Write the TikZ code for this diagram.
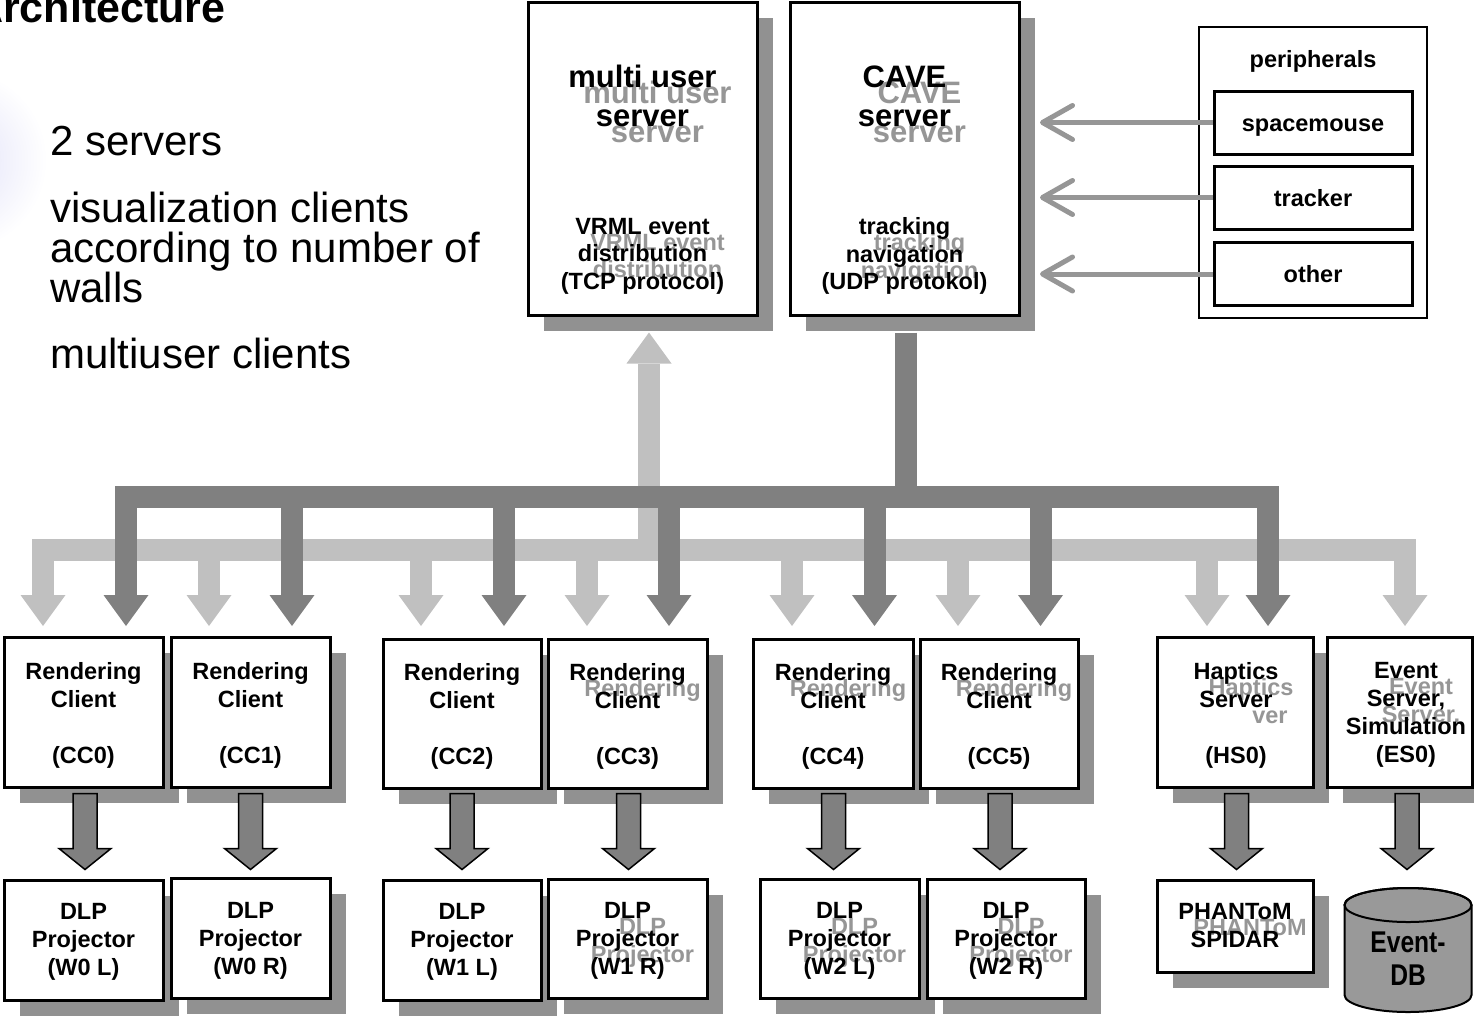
\documentclass[tikz,border=0pt]{standalone}
\usepackage{fontspec}
\setmainfont{Liberation Sans}
\newfontfamily\narrowfont[FakeStretch=0.82]{Liberation Sans}
\usetikzlibrary{shapes.geometric,shadows,fit,calc,arrows.meta}
\definecolor{shadowgray}{RGB}{145,145,145}
\definecolor{busdark}{RGB}{128,128,128}
\definecolor{buslight}{RGB}{192,192,192}
\definecolor{ghostgray}{RGB}{150,150,150}
\definecolor{periarrowcol}{RGB}{150,150,150}
\definecolor{dbgray}{RGB}{153,153,153}
\definecolor{blobcol}{RGB}{224,224,248}
\tikzset{
  blackbox/.style={draw=black,line width=3pt,fill=white,inner sep=0pt,
    drop shadow={shadow xshift=16pt,shadow yshift=-16pt,opacity=1,fill=shadowgray}},
  lbltext/.style={inner sep=0pt,align=center,font=\fontsize{23.5}{28}\selectfont\bfseries},
  desctext/.style={lbltext,font=\fontsize{23.5}{27.5}\selectfont\bfseries},
  titletext/.style={inner sep=0pt,align=center,font=\fontsize{31}{39}\selectfont\bfseries},
  ghosttext/.style={text=ghostgray},
  bullettext/.style={inner sep=0pt,align=left,font=\fontsize{42}{40}\selectfont},
  periphbox/.style={draw=black,line width=3pt,fill=white,inner sep=0pt,
    minimum width=198pt,minimum height=63pt,text height=20pt,text depth=3pt,
    font=\fontsize{23.5}{28}\selectfont\bfseries},
  periarrow/.style={draw=periarrowcol,line width=5pt,
    -{Straight Barb[length=30pt,width=34pt,round]}},
  darkbus/.style={draw=busdark,line width=22pt},
  lightbus/.style={draw=buslight,line width=22pt},
  bustip/.style={-{Triangle[width=45pt,length=31pt,line width=0pt]}},
  bustwo/.style={{Triangle[width=45pt,length=31pt,line width=0pt]}-{Triangle[width=45pt,length=31pt,line width=0pt]}},
  barrow/.pic={\draw[fill=busdark,line width=1.5pt,line join=miter]
    (-12,0)--(12,0)--(12,55)--(26,55)--(0,76)--(-26,55)--(-12,55)--cycle;},
  dbline/.style={draw=black,line width=2pt}
}
\begin{document}
\begin{tikzpicture}[x=1pt,y=-1pt]
\useasboundingbox (0,0) rectangle (1474,1018);
\clip (0,0) rectangle (1474,1018);

% faint background blob
\shade[inner color=blobcol,outer color=white] (-45,160) circle (92);

% title and bullet text
\node[anchor=base west,inner sep=0pt,font=\fontsize{43}{50}\selectfont\bfseries] (title) at (-28,22) {Architecture};
\node[bullettext,anchor=base west] (b1) at (50,155) {2 servers};
\node[bullettext,anchor=north west] (b2) at (50,192) {visualization clients\\according to number of\\walls};
\node[bullettext,anchor=base west] (b3) at (50,368) {multiuser clients};

% server boxes
\node[blackbox,fit={(528,2)(757,315)}] (mu) {};
\node[blackbox,fit={(790,2)(1019,315)}] (cave) {};

% peripherals
\node[draw=black,line width=1.5pt,fill=white,inner sep=0pt,fit={(1199,27)(1427,318)}] (peri) {};
\node[anchor=base,inner sep=0pt,font=\fontsize{23.5}{28}\selectfont\bfseries] (perit) at (1313,67) {peripherals};
\node[periphbox] (sm) at (1313,122.5) {spacemouse};
\node[periphbox] (tr) at (1313,197.5) {tracker};
\node[periphbox] (ot) at (1313,274) {other};

% client boxes
\node[blackbox,fit={(4,637)(163,787)}] (cc0) {};
\node[blackbox,fit={(171,637)(330,787)}] (cc1) {};
\node[blackbox,fit={(383,639)(541,788)}] (cc2) {};
\node[blackbox,fit={(548,639)(707,788)}] (cc3) {};
\node[blackbox,fit={(753,639)(913,788)}] (cc4) {};
\node[blackbox,fit={(920,639)(1078,788)}] (cc5) {};
\node[blackbox,fit={(1157,637)(1313,787)}] (hs0) {};
\node[blackbox,fit={(1327,637)(1472,787)}] (es0) {};

% projector boxes
\node[blackbox,fit={(4,880)(163,1000)}] (w0l) {};
\node[blackbox,fit={(171,878)(330,998)}] (w0r) {};
\node[blackbox,fit={(383,880)(541,1000)}] (w1l) {};
\node[blackbox,fit={(548,879)(707,998)}] (w1r) {};
\node[blackbox,fit={(760,879)(919,998)}] (w2l) {};
\node[blackbox,fit={(927,879)(1085,998)}] (w2r) {};
\node[blackbox,fit={(1157,880)(1313,972)}] (ph) {};

% database cylinder
\path[dbline,fill=dbgray] (1344.5,905) -- (1344.5,995)
  arc[start angle=180,end angle=0,x radius=63.5,y radius=17] -- (1471.5,905)
  arc[start angle=0,end angle=-180,x radius=63.5,y radius=17] -- cycle;
\draw[dbline] (1408,905) ellipse[x radius=63.5,y radius=17];

% ghost texts
\node[titletext,ghosttext] (mug1) at (657.5,112.4) {multi user\\server};
\node[desctext,ghosttext] (mug2) at (657.5,272) {VRML event\\distribution\\\phantom{(TCP protocol)}};
\node[titletext,ghosttext] (caveg1) at (919.5,112.4) {CAVE\\server};
\node[desctext,ghosttext] (caveg2) at (919.5,272) {tracking\\navigation\\\phantom{(UDP protokol)}};
\node[lbltext,ghosttext] (cc3g) at (642.5,732) {Rendering\\\phantom{Client}\\[28pt]\phantom{(CC3)}};
\node[lbltext,ghosttext] (cc4g) at (848,732) {Rendering\\\phantom{Client}\\[28pt]\phantom{(CC4)}};
\node[lbltext,ghosttext] (cc5g) at (1014,732) {Rendering\\\phantom{Client}\\[28pt]\phantom{(CC5)}};
\node[lbltext,ghosttext] (hs0g) at (1251,731) {Haptics\\\phantom{Ser}ver\\[28pt]\phantom{(HS0)}};
\node[lbltext,ghosttext] (es0g) at (1421,731) {Event\\Server,\\\phantom{Simulation}\\\phantom{(ES0)}};
\node[lbltext,ghosttext] (w1rg) at (642.5,957) {DLP\\Projector\\\phantom{(W1 R)}};
\node[lbltext,ghosttext] (w2lg) at (854.5,957) {DLP\\Projector\\\phantom{(W2 L)}};
\node[lbltext,ghosttext] (w2rg) at (1021,957) {DLP\\Projector\\\phantom{(W2 R)}};
\node[lbltext,ghosttext] (phg) at (1250,942) {PHANToM\\\phantom{SPIDAR}};

% texts
\node[titletext] (mut1) at (642.5,96.4) {multi user\\server};
\node[desctext] (mut2) at (642.5,256) {VRML event\\distribution\\(TCP protocol)};
\node[titletext] (cavet1) at (904.5,96.4) {CAVE\\server};
\node[desctext] (cavet2) at (904.5,256) {tracking\\navigation\\(UDP protokol)};
\node[lbltext] (cc0t) at (83.5,715) {Rendering\\Client\\[28pt](CC0)};
\node[lbltext] (cc1t) at (250.5,715) {Rendering\\Client\\[28pt](CC1)};
\node[lbltext] (cc2t) at (462,716) {Rendering\\Client\\[28pt](CC2)};
\node[lbltext] (cc3t) at (627.5,716) {Rendering\\Client\\[28pt](CC3)};
\node[lbltext] (cc4t) at (833,716) {Rendering\\Client\\[28pt](CC4)};
\node[lbltext] (cc5t) at (999,716) {Rendering\\Client\\[28pt](CC5)};
\node[lbltext] (hs0t) at (1236,715) {Haptics\\Server\\[28pt](HS0)};
\node[lbltext] (es0t) at (1406,715) {Event\\Server,\\Simulation\\(ES0)};
\node[lbltext] (w0lt) at (83.5,942) {DLP\\Projector\\(W0 L)};
\node[lbltext] (w0rt) at (250.5,941) {DLP\\Projector\\(W0 R)};
\node[lbltext] (w1lt) at (462,942) {DLP\\Projector\\(W1 L)};
\node[lbltext] (w1rt) at (627.5,941) {DLP\\Projector\\(W1 R)};
\node[lbltext] (w2lt) at (839.5,941) {DLP\\Projector\\(W2 L)};
\node[lbltext] (w2rt) at (1006,941) {DLP\\Projector\\(W2 R)};
\node[lbltext] (pht) at (1235,926) {PHANToM\\SPIDAR};
\node[inner sep=0pt,align=center,font=\narrowfont\fontsize{30}{33}\selectfont\bfseries] (dbt) at (1408,959) {Event-\\DB};

% peripheral arrows
\coordinate (smtip) at ($(sm.west)+(-172.5,0)$);
\coordinate (trtip) at ($(tr.west)+(-172.5,0)$);
\coordinate (ottip) at ($(ot.west)+(-172.5,0)$);
\draw[periarrow] (sm.west) -- (smtip);
\draw[periarrow] (tr.west) -- (trtip);
\draw[periarrow] (ot.west) -- (ottip);

% light (multi user) bus
\draw[lightbus,bustwo] (43,626) |- (1405,550) -- (1405,626);
\foreach \x in {209,421,587,792,958,1207}
  \draw[lightbus,bustip] (\x,550) -- (\x,626);
\coordinate (muup) at ($(mu.south)+(6.5,16)$);
\draw[lightbus,bustip] (649,550) -- (muup);

% dark (CAVE) bus
\coordinate (cavedown) at ($(cave.south)+(1,16)$);
\draw[darkbus] (cavedown) -- (905.5,497);
\draw[darkbus,bustwo] (126,626) |- (1268,497) -- (1268,626);
\foreach \x in {292,504,669,874.5,1040.5}
  \draw[darkbus,bustip] (\x,497) -- (\x,626);

% client -> device arrows
\pic at ($(cc0.south)+(1.5,5)$) {barrow};
\pic at ($(cc1.south)+(0,5)$) {barrow};
\pic at ($(cc2.south)+(0,4)$) {barrow};
\pic at ($(cc3.south)+(1,4)$) {barrow};
\pic at ($(cc4.south)+(0.5,4)$) {barrow};
\pic at ($(cc5.south)+(1,4)$) {barrow};
\pic at ($(hs0.south)+(1.5,5)$) {barrow};
\pic at ($(es0t |- es0.south)+(1,5)$) {barrow};
\end{tikzpicture}
\end{document}
